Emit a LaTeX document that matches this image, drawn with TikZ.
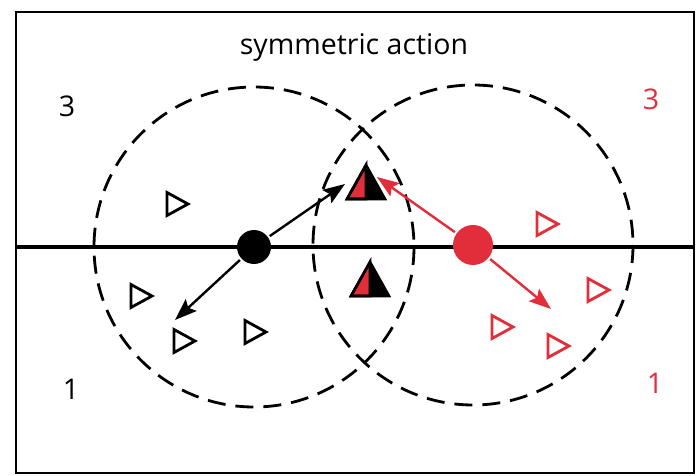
\documentclass[tikz,border=0pt]{standalone}
\usepackage{fontspec}
\setmainfont{Open Sans}
\usetikzlibrary{arrows.meta}
\definecolor{myred}{RGB}{226,45,58}
\begin{document}
\begin{tikzpicture}[x=1pt,y=-1pt,
  frame/.style={line width=2.8pt},
  axis/.style={line width=3.2pt},
  zone/.style={line width=2.8pt,dash pattern=on 18pt off 10pt},
  dot/.style={circle,fill,inner sep=0pt},
  act/.style={line width=2.4pt,-{Stealth[length=22pt,width=16pt,inset=4pt]},shorten <=2pt},
  lbl/.style={font=\fontsize{28.5}{34}\selectfont,anchor=base},
  tri/.pic={\draw[line width=2.8pt,line join=miter] (-9,-11.5) -- (-9,11.5) -- (12,0) -- cycle;},
  half/.pic={\fill[black] (0,-17) -- (19,17) -- (-19,17) -- cycle;
             \filldraw[fill=myred,draw=black,line width=2.6pt,line join=miter] (0,-17) -- (0,17) -- (-19,17) -- cycle;
             \draw[line width=2.6pt,line join=miter] (0,-17) -- (19,17) -- (-19,17) -- cycle;}
]
\useasboundingbox (0,0) rectangle (696,476);
\fill[white] (0,0) rectangle (696,476);
\draw[frame] (16,12) rectangle (694,473);
\draw[axis] (16,247) -- (694,247);

\draw[zone] (254,247) circle[radius=160];
\draw[zone] (473,245) circle[radius=160];

% triangles
\coordinate (tA) at (176,204);
\coordinate (tB) at (140,296);
\coordinate (tC) at (183,341);
\coordinate (tD) at (254,332);
\pic at (tA) {tri};
\pic at (tB) {tri};
\pic at (tC) {tri};
\pic at (tD) {tri};
\coordinate (rA) at (546,224);
\coordinate (rB) at (597,290);
\coordinate (rC) at (501,327);
\coordinate (rD) at (557,346);
\pic[myred] at (rA) {tri};
\pic[myred] at (rB) {tri};
\pic[myred] at (rC) {tri};
\pic[myred] at (rD) {tri};
\coordinate (hTop) at (366,182);
\coordinate (hBot) at (370,279);
\pic at (hTop) {half};
\pic at (hBot) {half};

\node[dot,minimum size=34pt] (bdot) at (254,247) {};
\node[dot,fill=myred,minimum size=40pt] (rdot) at (473,245) {};

\coordinate (bt1) at (345,184);
\coordinate (bt2) at (175,320);
\coordinate (rt1) at (377,177);
\coordinate (rt2) at (551,309);
\draw[act] (bdot) -- (bt1);
\draw[act] (bdot) -- (bt2);
\draw[act,myred] (rdot) -- (rt1);
\draw[act,myred] (rdot) -- (rt2);

\node[lbl] (title) at (354,55) {symmetric action};
\node[lbl] (l3) at (67,117) {3};
\node[lbl] (l1) at (71,399) {1};
\node[lbl,text=myred] (r3) at (651,110) {3};
\node[lbl,text=myred] (r1) at (655,393) {1};
\end{tikzpicture}
\end{document}
